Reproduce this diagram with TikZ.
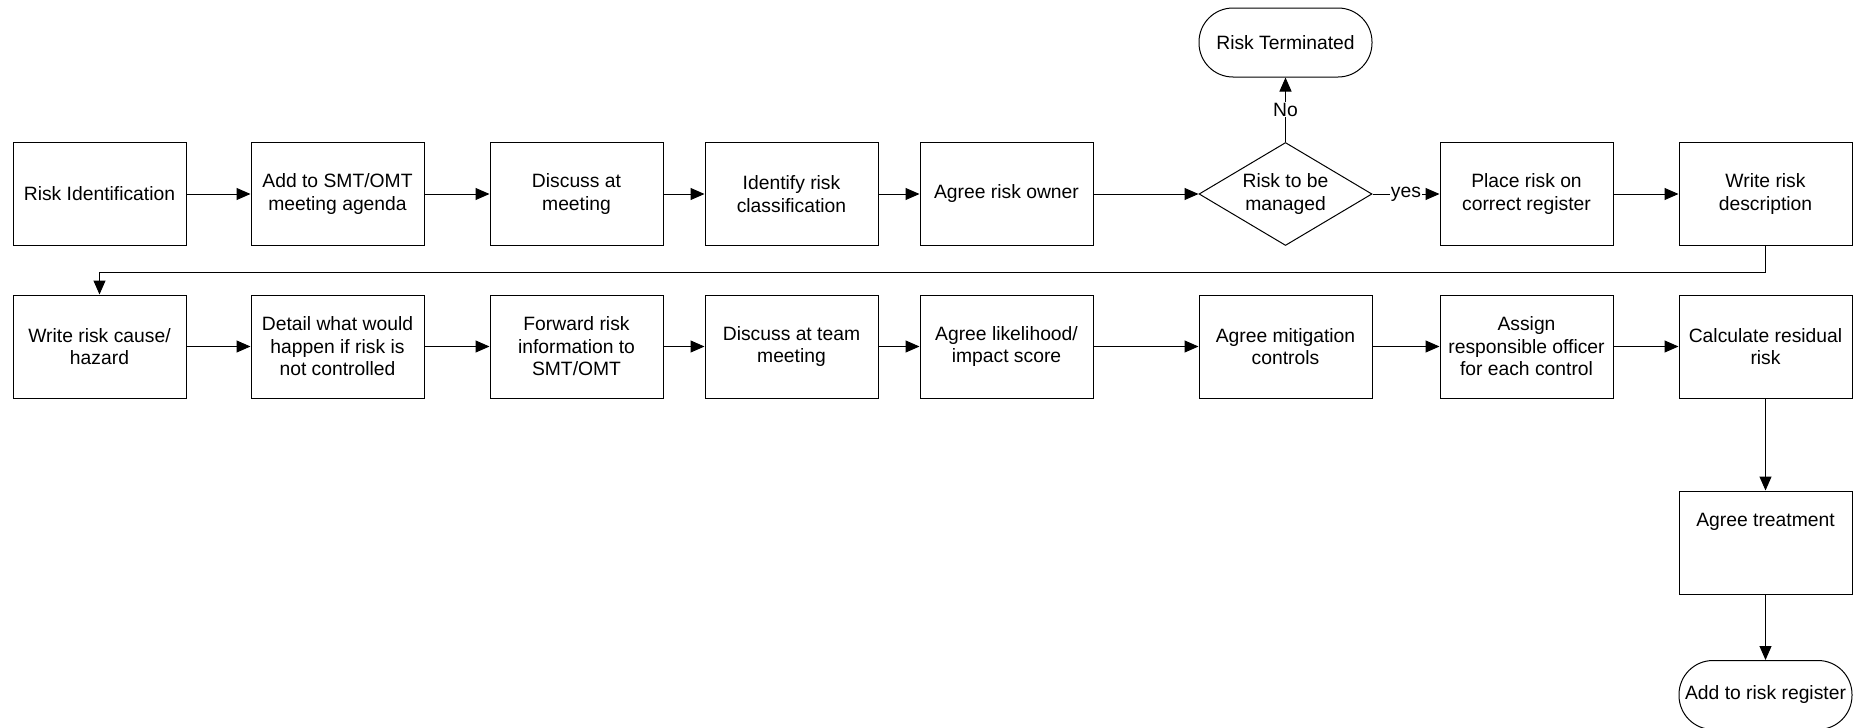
\documentclass[tikz,border=0pt]{standalone}
\usepackage{fontspec}
\setmainfont{Liberation Sans}
\usetikzlibrary{shapes.geometric,arrows.meta}
\begin{document}
\begin{tikzpicture}[x=1pt,y=-1pt,
  every node/.style={font=\fontsize{19.3}{22.5}\selectfont, align=center},
  box/.style={draw, line width=1pt, minimum width=173pt, minimum height=103pt, inner sep=2pt},
  term/.style={draw, line width=1pt, rounded corners=34pt, minimum width=173pt, minimum height=69pt, inner sep=2pt},
  dec/.style={draw, line width=1pt, diamond, shape aspect=1.68, minimum width=173pt, minimum height=103pt, inner sep=0pt},
  arr/.style={line width=1pt, -{Triangle[length=14pt,width=12pt]}},
  lbl/.style={fill=white, inner sep=1pt}
]
\useasboundingbox (0,0) rectangle (1858,728);

% row 1
\node[box] (b1) at (99.5,194) {Risk Identification};
\node[box] (b2) at (337.5,194) {Add to SMT/OMT\\meeting agenda};
\node[box] (b3) at (576.5,194) {Discuss at\\meeting};
\node[box] (b4) at (791.5,194) {Identify risk\\classification};
\node[box] (b5) at (1006.5,194) {Agree risk owner};
\node[dec] (dia) at (1285.5,194) {Risk to be\\managed};
\node[box] (b7) at (1526.5,194) {Place risk on\\correct register};
\node[box] (b8) at (1765.5,194) {Write risk\\description};
\node[term] (term) at (1285.5,42.5) {Risk Terminated};

% row 2
\node[box] (c1) at (99.5,346.5) {Write risk cause/\\hazard};
\node[box] (c2) at (337.5,346.5) {Detail what would\\happen if risk is\\not controlled};
\node[box] (c3) at (576.5,346.5) {Forward risk\\information to\\SMT/OMT};
\node[box] (c4) at (791.5,346.5) {Discuss at team\\meeting};
\node[box] (c5) at (1006.5,346.5) {Agree likelihood/\\impact score};
\node[box] (c6) at (1285.5,346.5) {Agree mitigation\\controls};
\node[box] (c7) at (1526.5,346.5) {Assign\\responsible officer\\for each control};
\node[box] (c8) at (1765.5,346.5) {Calculate residual\\risk};

\node[box] (treat) at (1765.5,542.5) {Agree treatment\\\mbox{}\\\mbox{}};
\node[term] (add) at (1765.5,695) {Add to risk register};

% connectors row 1
\draw[arr] (b1) -- (b2);
\draw[arr] (b2) -- (b3);
\draw[arr] (b3) -- (b4);
\draw[arr] (b4) -- (b5);
\draw[arr] (b5) -- (dia);
\draw[arr] (dia.east) -- node[lbl] {yes} (b7.west);
\draw[arr] (b7) -- (b8);
\draw[arr] (dia.north) -- node[lbl] {No} (term.south);

% link between rows
\draw[arr] (b8.south) -- ++(0,26) -| (c1.north);

% connectors row 2
\draw[arr] (c1) -- (c2);
\draw[arr] (c2) -- (c3);
\draw[arr] (c3) -- (c4);
\draw[arr] (c4) -- (c5);
\draw[arr] (c5) -- (c6);
\draw[arr] (c6) -- (c7);
\draw[arr] (c7) -- (c8);
\draw[arr] (c8) -- (treat);
\draw[arr] (treat) -- (add);
\end{tikzpicture}
\end{document}
